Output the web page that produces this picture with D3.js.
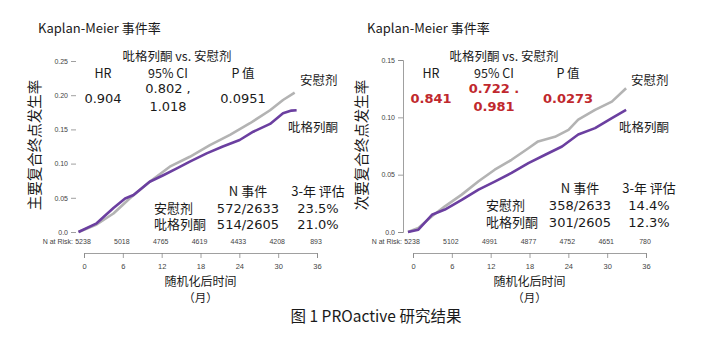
<!DOCTYPE html>
<html>
<head>
<meta charset="utf-8">
<script src="https://cdn.jsdelivr.net/npm/d3@7/dist/d3.min.js"></script>
<style>
  html, body { margin: 0; padding: 0; background: #fff; }
  svg { display: block; }
  .cjk { font-family: "Noto Sans CJK SC", "Noto Sans", sans-serif; }
  .num { font-family: "DejaVu Sans", Verdana, sans-serif; }
  .tick text { font-family: "Liberation Sans Narrow", "Liberation Sans", Arial, sans-serif; }
</style>
</head>
<body>
<svg id="chart" width="708" height="343"></svg>
<script>
// ---- data ----
const monthTicks = [0, 6, 12, 18, 24, 30, 36];

// Primary composite endpoint (left panel)
const primaryYTicks = [0, 0.05, 0.10, 0.15, 0.20, 0.25];
const primaryYLabels = ["0.0", "0.05", "0.10", "0.15", "0.20", "0.25"];
const primaryAtRisk = ["5238", "5018", "4765", "4619", "4433", "4208", "893"];
const primaryPlaceboT = [0, 2.8, 5.4, 7.9, 11.0, 14.1, 17.2, 20.3, 23.4, 26.5, 29.6, 31.6, 33.4];
const primaryPlaceboV = [0, 0.011, 0.027, 0.049, 0.0735, 0.0955, 0.110, 0.127, 0.142, 0.159, 0.178, 0.193, 0.2037];
const primaryPioT = [0, 2.8, 5.4, 7.2, 8.5, 11.0, 13.1, 15.2, 17.2, 19.8, 22.3, 24.9, 27.0, 29.6, 31.6, 32.9, 33.7];
const primaryPioV = [0, 0.0127, 0.035, 0.049, 0.054, 0.0735, 0.083, 0.093, 0.103, 0.115, 0.125, 0.1345, 0.1466, 0.158, 0.1735, 0.1775, 0.178];
const primaryStats = { hr: "0.904", ciLow: "0.802 ,", ciHigh: "1.018", p: "0.0951" };
const primaryEvents = ["572/2633", "514/2605"];
const primaryRates = ["23.5%", "21.0%"];

// Secondary composite endpoint (right panel)
const secondaryYTicks = [0, 0.05, 0.10, 0.15];
const secondaryYLabels = ["0.0", "0.05", "0.10", "0.15"];
const secondaryAtRisk = ["5238", "5102", "4991", "4877", "4752", "4651", "780"];
const secondaryPlaceboT = [0, 1.6, 3.7, 5.7, 8.3, 10.9, 13.4, 16.0, 18.6, 20.1, 22.7, 24.8, 26.3, 28.9, 31.5, 33.7];
const secondaryPlaceboV = [0, 0.0036, 0.0137, 0.0224, 0.0326, 0.0442, 0.0543, 0.063, 0.073, 0.079, 0.083, 0.089, 0.098, 0.1065, 0.1137, 0.1254];
const secondaryPioT = [0, 1.6, 3.7, 5.7, 8.3, 10.9, 13.4, 16.0, 18.6, 21.2, 23.8, 26.3, 28.9, 31.5, 33.7];
const secondaryPioV = [0, 0.002, 0.015, 0.0196, 0.028, 0.037, 0.044, 0.0515, 0.060, 0.0674, 0.0746, 0.085, 0.0906, 0.0993, 0.1065];
const secondaryStats = { hr: "0.841", ciLow: "0.722 .", ciHigh: "0.981", p: "0.0273" };
const secondaryEvents = ["358/2633", "301/2605"];
const secondaryRates = ["14.4%", "12.3%"];

const groupNames = ["安慰剂", "吡格列酮"];

// ---- layout ----
const panels = [
  {
    yTicks: primaryYTicks, yLabels: primaryYLabels, yMax: 0.25, yTop: 61,
    axisX0: 84, curveX0: 78.5, yAxisX: 76, drawYLine: false,
    atRisk: primaryAtRisk,
    placebo: primaryPlaceboT.map((t, i) => [t, primaryPlaceboV[i]]),
    pio: primaryPioT.map((t, i) => [t, primaryPioV[i]]),
    stats: primaryStats, statsRed: false,
    yTitle: "主要复合终点发生率", yTitleX: 35,
    head: { vs: 177, hr: 103, ci: 168, p: 243 },
    labelPlacebo: [300, 80], labelPio: [288, 127],
    table: { name: 154, ev: 248, rate: 318, head: 191, r1: 208, r2: 224 },
    events: primaryEvents, rates: primaryRates
  },
  {
    yTicks: secondaryYTicks, yLabels: secondaryYLabels, yMax: 0.15, yTop: 60,
    axisX0: 413, curveX0: 408, yAxisX: 403, drawYLine: true,
    atRisk: secondaryAtRisk,
    placebo: secondaryPlaceboT.map((t, i) => [t, secondaryPlaceboV[i]]),
    pio: secondaryPioT.map((t, i) => [t, secondaryPioV[i]]),
    stats: secondaryStats, statsRed: true,
    yTitle: "次要复合终点发生率", yTitleX: 362,
    head: { vs: 504, hr: 431, ci: 494, p: 568 },
    labelPlacebo: [631, 80], labelPio: [619, 127],
    table: { name: 486, ev: 580, rate: 649, head: 188, r1: 205, r2: 222 },
    events: secondaryEvents, rates: secondaryRates
  }
];

const svg = d3.select("#chart");
const yBottom = 232;
const monthSpan = 233;       // pixels covered by 36 months
const xAxisY = 253;
const atRiskY = 244;

const placeboColor = "#b3b3b3";
const pioColor = "#6b3fa0";
const ink = "#1a1a1a";

panels.forEach((p, idx) => {
  const g = svg.append("g");
  const axisX = d3.scaleLinear().domain([0, 36]).range([p.axisX0, p.axisX0 + monthSpan]);
  const curveX = d3.scaleLinear().domain([0, 36]).range([p.curveX0, p.curveX0 + monthSpan]);
  const y = d3.scaleLinear().domain([0, p.yMax]).range([yBottom, p.yTop]);

  // title
  g.append("text").attr("class", "cjk")
    .attr("x", idx === 0 ? 38 : 367).attr("y", 33)
    .attr("font-size", 13).attr("fill", ink)
    .text("Kaplan-Meier 事件率");

  // y axis
  const yAxis = d3.axisLeft(y).tickValues(p.yTicks)
    .tickFormat((d, i) => p.yLabels[i]).tickSize(5).tickPadding(3);
  const ya = g.append("g").attr("transform", `translate(${p.yAxisX},0)`).call(yAxis);
  ya.select(".domain").attr("stroke", p.drawYLine ? "#888" : "none").attr("stroke-width", 0.8);
  ya.selectAll(".tick line").attr("stroke", "#888").attr("stroke-width", 0.8);
  ya.selectAll(".tick text").attr("font-size", 7).attr("fill", "#444");

  // y title
  g.append("text").attr("class", "cjk")
    .attr("transform", `translate(${p.yTitleX + 5},145) rotate(-90)`)
    .attr("text-anchor", "middle").attr("font-size", 14.5).attr("fill", ink)
    .text(p.yTitle);

  // curves
  const line = d3.line().x(d => curveX(d[0])).y(d => y(d[1]));
  g.append("path").datum(p.placebo).attr("d", line)
    .attr("fill", "none").attr("stroke", placeboColor).attr("stroke-width", 2.6)
    .attr("stroke-linejoin", "round");
  g.append("path").datum(p.pio).attr("d", line)
    .attr("fill", "none").attr("stroke", pioColor).attr("stroke-width", 2.6)
    .attr("stroke-linejoin", "round");

  // curve labels
  g.append("text").attr("class", "cjk").attr("x", p.labelPlacebo[0]).attr("y", p.labelPlacebo[1] + 5)
    .attr("font-size", 12.5).attr("fill", ink).text(groupNames[0]);
  g.append("text").attr("class", "cjk").attr("x", p.labelPio[0]).attr("y", p.labelPio[1] + 5)
    .attr("font-size", 12.5).attr("fill", ink).text(groupNames[1]);

  // comparison header
  const h = p.head;
  g.append("text").attr("class", "cjk").attr("x", h.vs).attr("y", 61)
    .attr("text-anchor", "middle").attr("font-size", 12.5).attr("fill", ink)
    .text("吡格列酮 vs. 安慰剂");
  [["HR", h.hr], ["95% CI", h.ci], ["P 值", h.p]].forEach(([t, x]) => {
    g.append("text").attr("class", "cjk").attr("x", x).attr("y", 78)
      .attr("text-anchor", "middle").attr("font-size", 12.5).attr("fill", ink).text(t);
  });
  const valFill = p.statsRed ? "#c0282d" : ink;
  const valWeight = p.statsRed ? "bold" : "normal";
  [[p.stats.hr, h.hr, 103], [p.stats.ciLow, h.ci, 93], [p.stats.ciHigh, h.ci, 111], [p.stats.p, h.p, 103]]
    .forEach(([t, x, yy]) => {
      g.append("text").attr("class", "num").attr("x", x).attr("y", yy)
        .attr("text-anchor", "middle").attr("font-size", 13)
        .attr("font-weight", valWeight).attr("fill", valFill).text(t);
    });

  // event table
  const tb = p.table;
  g.append("text").attr("class", "cjk").attr("x", tb.ev).attr("y", tb.head + 5)
    .attr("text-anchor", "middle").attr("font-size", 13).attr("fill", ink).text("N 事件");
  g.append("text").attr("class", "cjk").attr("x", tb.rate).attr("y", tb.head + 5)
    .attr("text-anchor", "middle").attr("font-size", 13).attr("fill", ink).text("3-年 评估");
  [tb.r1, tb.r2].forEach((ry, i) => {
    g.append("text").attr("class", "cjk").attr("x", tb.name).attr("y", ry + 5)
      .attr("font-size", 13).attr("fill", ink).text(groupNames[i]);
    g.append("text").attr("class", "num").attr("x", tb.ev).attr("y", ry + 5)
      .attr("text-anchor", "middle").attr("font-size", 13).attr("fill", ink).text(p.events[i]);
    g.append("text").attr("class", "num").attr("x", tb.rate).attr("y", ry + 5)
      .attr("text-anchor", "middle").attr("font-size", 13).attr("fill", ink).text(p.rates[i]);
  });

  // numbers at risk
  g.append("text").attr("x", p.axisX0 - 11).attr("y", atRiskY)
    .attr("text-anchor", "end").attr("font-size", 7).attr("fill", "#444")
    .attr("font-family", "Liberation Sans Narrow, Liberation Sans, sans-serif")
    .text("N at Risk:");
  g.selectAll(".risk").data(p.atRisk).enter().append("text")
    .attr("x", (d, i) => axisX(monthTicks[i]) - 1).attr("y", atRiskY)
    .attr("text-anchor", "middle").attr("font-size", 7).attr("fill", "#444")
    .attr("font-family", "Liberation Sans Narrow, Liberation Sans, sans-serif")
    .text(d => d);

  // x axis
  const xAxis = d3.axisBottom(axisX).tickValues(monthTicks).tickSize(5).tickPadding(6);
  const xa = g.append("g").attr("transform", `translate(0,${xAxisY})`).call(xAxis);
  xa.select(".domain").attr("stroke", "#888").attr("stroke-width", 0.8);
  xa.selectAll(".tick line").attr("stroke", "#888").attr("stroke-width", 0.8);
  xa.selectAll(".tick text").attr("font-size", 7.5).attr("fill", "#444");

  // x title
  const xc = p.axisX0 + monthSpan / 2;
  g.append("text").attr("class", "cjk").attr("x", xc).attr("y", 286)
    .attr("text-anchor", "middle").attr("font-size", 12).attr("fill", ink).text("随机化后时间");
  g.append("text").attr("class", "cjk").attr("x", xc).attr("y", 302)
    .attr("text-anchor", "middle").attr("font-size", 11.5).attr("fill", ink).text("（月）");
});

// figure caption
svg.append("text").attr("class", "cjk").attr("x", 376).attr("y", 322)
  .attr("text-anchor", "middle").attr("font-size", 15.5).attr("fill", ink)
  .text("图 1  PROactive 研究结果");
</script>
</body>
</html>
